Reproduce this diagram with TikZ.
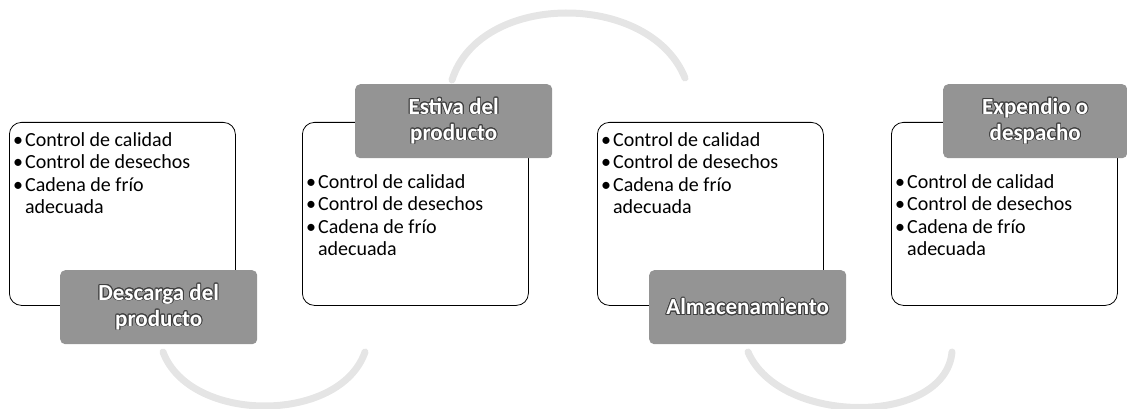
\documentclass[tikz,border=0pt]{standalone}
\usepackage{fontspec}
\setmainfont{Carlito}
\usepackage[copies]{contour}
\contourlength{0.9pt}
\newcommand\itemlist{\begin{tabular}{@{}l@{\hspace{2pt}}l@{}}\textbullet & Control de calidad\\ \textbullet & Control de desechos\\ \textbullet & Cadena de frío\\ & adecuada\end{tabular}}
\newcommand\lbl[1]{\contour{black!75}{#1}}
\begin{document}
\begin{tikzpicture}[x=1pt,y=-1pt,
  box/.style={draw=black, line width=0.8pt, rounded corners=12pt, anchor=north west,
    minimum width=226pt, minimum height=183pt, inner sep=0pt},
  lab/.style={fill=black!42, rounded corners=5pt, anchor=north west,
    minimum width=197pt, minimum height=74pt, align=center, text=white,
    font=\fontsize{23}{26}\selectfont\bfseries, inner sep=0pt},
  items/.style={anchor=north west, inner sep=0pt, font=\fontsize{20}{22.5}\selectfont},
  arcline/.style={line width=7pt, draw=black!10, line cap=round}]
\useasboundingbox (0,0) rectangle (1127,409);

% outer boxes
\node[box] (b1) at (9,122) {};
\node[box] (b2) at (302,122) {};
\node[box] (b3) at (597,122) {};
\node[box] (b4) at (891,122) {};

% labels
\node[lab] (l1) at (60,270) {\lbl{Descarga del}\\\lbl{producto}};
\node[lab] (l2) at (355,84) {\lbl{Estiva del}\\\lbl{producto}};
\node[lab] (l3) at (649,270) {\lbl{Almacenamiento}};
\node[lab, minimum width=184pt] (l4) at (943,84) {\lbl{Expendio o}\\\lbl{despacho}};

% item lists
\node[items] (t1) at (13,130.5) {\itemlist};
\node[items] (t2) at (306,172.5) {\itemlist};
\node[items] (t3) at (601,130.5) {\itemlist};
\node[items] (t4) at (895,172.5) {\itemlist};

% connecting arcs
\coordinate (a1s) at (163,352);
\coordinate (a1e) at (365,352);
\coordinate (a2s) at (452,80);
\coordinate (a2e) at (685,78);
\coordinate (a3s) at (748,352);
\coordinate (a3e) at (952,352);
\draw[arcline] (a1s) .. controls (190,424) and (340,424) .. (a1e);
\draw[arcline] (a2s) .. controls (480,-9) and (650,-9) .. (a2e);
\draw[arcline] (a3s) .. controls (780,426) and (945,426) .. (a3e);
\end{tikzpicture}
\end{document}
